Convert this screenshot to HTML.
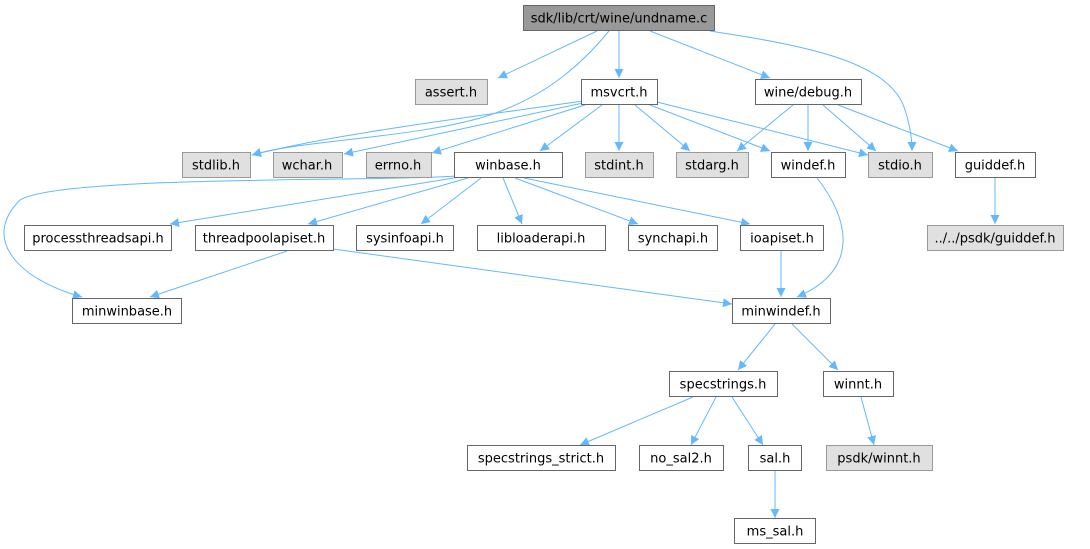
<!DOCTYPE html>
<html><head><meta charset="utf-8"><style>
html,body{margin:0;padding:0;background:#fff;}
svg{display:block;}
text{font-family:"DejaVu Sans","Liberation Sans",sans-serif;font-size:13px;fill:#000;text-anchor:middle;}
.n{fill:#fff;stroke:#666;stroke-width:1;}
.g{fill:#e0e0e0;stroke:#999;stroke-width:1;}
.r{fill:#999;stroke:#666;stroke-width:1;}
.e{fill:none;stroke:#63b8ff;stroke-width:1;marker-end:url(#a);}
</style></head><body>
<svg width="1090" height="549" viewBox="0 0 1090 549" xmlns="http://www.w3.org/2000/svg">
<defs><marker id="a" viewBox="0 0 10 10" refX="10" refY="5" markerWidth="9" markerHeight="9" markerUnits="userSpaceOnUse" orient="auto"><path d="M0,0 L10,5 L0,10 z" fill="#63b8ff"/></marker></defs>
<path class="e" d="M597,31 L498,78"/>
<path class="e" d="M609,31 C585,60 550,95 490,115 C420,138 300,140 252,155"/>
<path class="e" d="M619,31 L619,78"/>
<path class="e" d="M650,31 L770,78"/>
<path class="e" d="M710,31 C800,45 890,60 905,110 C910,125 912,138 912,151"/>
<path class="e" d="M583,101 C450,120 330,135 252,155"/>
<path class="e" d="M583,103 L344,154"/>
<path class="e" d="M585,105 L432,153"/>
<path class="e" d="M602,105 L540,151"/>
<path class="e" d="M619,105 L619,151"/>
<path class="e" d="M635,105 L690,151"/>
<path class="e" d="M650,105 L770,151"/>
<path class="e" d="M657,102 L868,155"/>
<path class="e" d="M793,105 L737,151"/>
<path class="e" d="M808,105 L808,151"/>
<path class="e" d="M823,105 L876,151"/>
<path class="e" d="M838,105 L958,151"/>
<path class="e" d="M995,178 L995,224"/>
<path class="e" d="M456,176 C380,182 60,175 20,200 C-20,240 20,280 82,297"/>
<path class="e" d="M460,177 L170,224"/>
<path class="e" d="M468,178 L308,224"/>
<path class="e" d="M481,178 L421,224"/>
<path class="e" d="M503,178 L522,224"/>
<path class="e" d="M515,178 L638,224"/>
<path class="e" d="M524,178 L750,224"/>
<path class="e" d="M287,251 L150,297"/>
<path class="e" d="M333,249 L732,304"/>
<path class="e" d="M781,251 L781,297"/>
<path class="e" d="M817,178 C850,220 860,270 797,297"/>
<path class="e" d="M775,324 L738,370"/>
<path class="e" d="M792,324 L838,370"/>
<path class="e" d="M693,397 L580,445"/>
<path class="e" d="M716,397 L691,445"/>
<path class="e" d="M732,397 L763,445"/>
<path class="e" d="M861,397 L874,445"/>
<path class="e" d="M775,470 L775,518"/>
<rect class="r" x="523.5" y="5.5" width="191" height="25"/><text x="619" y="22.5">sdk/lib/crt/wine/undname.c</text>
<rect class="g" x="415.5" y="79.5" width="72" height="25"/><text x="451" y="96.5">assert.h</text>
<rect class="n" x="581.5" y="79.5" width="76" height="25"/><text x="619" y="96.5">msvcrt.h</text>
<rect class="n" x="755.5" y="79.5" width="106" height="25"/><text x="808" y="96.5">wine/debug.h</text>
<rect class="g" x="182.5" y="152.5" width="68" height="25"/><text x="216" y="169.5">stdlib.h</text>
<rect class="g" x="273.5" y="152.5" width="69" height="25"/><text x="307" y="169.5">wchar.h</text>
<rect class="g" x="366.5" y="152.5" width="65" height="25"/><text x="398" y="169.5">errno.h</text>
<rect class="n" x="454.5" y="152.5" width="108" height="25"/><text x="508" y="169.5">winbase.h</text>
<rect class="g" x="585.5" y="152.5" width="68" height="25"/><text x="619" y="169.5">stdint.h</text>
<rect class="g" x="676.5" y="152.5" width="72" height="25"/><text x="712" y="169.5">stdarg.h</text>
<rect class="n" x="771.5" y="152.5" width="74" height="25"/><text x="808" y="169.5">windef.h</text>
<rect class="g" x="868.5" y="152.5" width="64" height="25"/><text x="900" y="169.5">stdio.h</text>
<rect class="n" x="955.5" y="152.5" width="80" height="25"/><text x="995" y="169.5">guiddef.h</text>
<rect class="n" x="24.5" y="225.5" width="147" height="25"/><text x="98" y="242.5">processthreadsapi.h</text>
<rect class="n" x="195.5" y="225.5" width="138" height="25"/><text x="264" y="242.5">threadpoolapiset.h</text>
<rect class="n" x="356.5" y="225.5" width="97" height="25"/><text x="405" y="242.5">sysinfoapi.h</text>
<rect class="n" x="477.5" y="225.5" width="128" height="25"/><text x="541" y="242.5">libloaderapi.h</text>
<rect class="n" x="628.5" y="225.5" width="89" height="25"/><text x="673" y="242.5">synchapi.h</text>
<rect class="n" x="740.5" y="225.5" width="83" height="25"/><text x="782" y="242.5">ioapiset.h</text>
<rect class="g" x="927.5" y="225.5" width="136" height="25"/><text x="995" y="242.5">../../psdk/guiddef.h</text>
<rect class="n" x="72.5" y="298.5" width="109" height="25"/><text x="127" y="315.5">minwinbase.h</text>
<rect class="n" x="732.5" y="298.5" width="98" height="25"/><text x="781" y="315.5">minwindef.h</text>
<rect class="n" x="669.5" y="371.5" width="108" height="25"/><text x="723" y="388.5">specstrings.h</text>
<rect class="n" x="823.5" y="371.5" width="70" height="25"/><text x="858" y="388.5">winnt.h</text>
<rect class="n" x="467.5" y="445.5" width="148" height="25"/><text x="541" y="462.5">specstrings_strict.h</text>
<rect class="n" x="639.5" y="445.5" width="84" height="25"/><text x="681" y="462.5">no_sal2.h</text>
<rect class="n" x="748.5" y="445.5" width="53" height="25"/><text x="775" y="462.5">sal.h</text>
<rect class="g" x="826.5" y="445.5" width="106" height="25"/><text x="879" y="462.5">psdk/winnt.h</text>
<rect class="n" x="734.5" y="518.5" width="81" height="25"/><text x="775" y="535.5">ms_sal.h</text>
</svg>
</body></html>
